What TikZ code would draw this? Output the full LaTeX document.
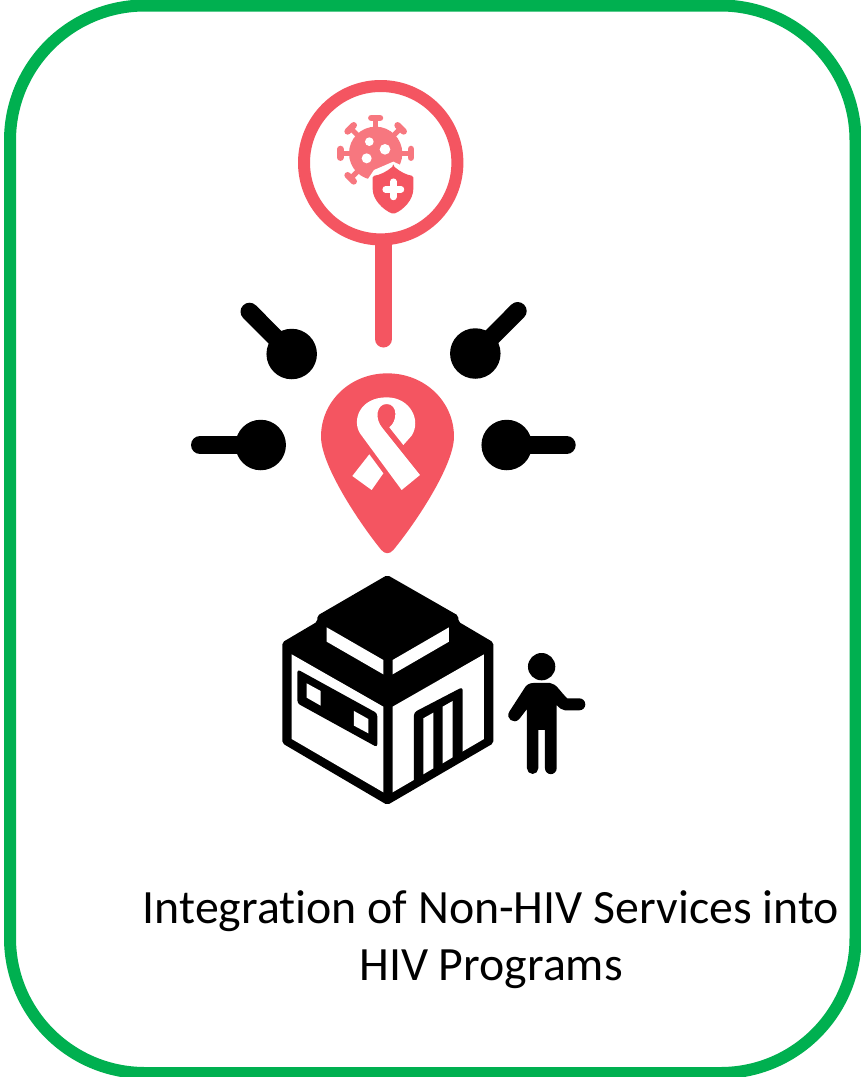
\documentclass[tikz,border=0pt]{standalone}
\usepackage{fontspec}
\usetikzlibrary{calc}
\setmainfont{Carlito}[Ligatures=NoCommon]
\definecolor{framegreen}{HTML}{00B050}
\definecolor{pinred}{HTML}{F45561}
\definecolor{virusred}{HTML}{F7777F}
\tikzset{
  frame/.style={draw=framegreen,line width=12pt,rounded corners=135pt,fill=white},
  stick/.style={line width=18pt,line cap=round,draw=black},
  blob/.style={circle,fill=black,draw=none,minimum size=50.5pt,inner sep=0pt},
  label/.style={font=\fontsize{47.8pt}{57pt}\selectfont,align=center,text=black,inner sep=0pt},
  spike/.style={draw=virusred,line width=5pt},
  spikecap/.style={draw=virusred,line width=6.5pt,line cap=round},
}
\begin{document}
\begin{tikzpicture}[x=1pt,y=-1pt]
\useasboundingbox (0,0) rectangle (861,1077);
\fill[white] (0,0) rectangle (861,1077);
\draw[frame] (10,5.5) rectangle (855.5,1073);

% lookout ring and stem
\draw[pinred,line width=17pt,line cap=round] (383.5,235) -- (383.5,339);
\draw[pinred,line width=12pt,fill=white] (380.7,162.7) circle (76.7);

% virus and shield (zoom coordinates)
\begin{scope}[shift={(290,70)},x=0.3333pt,y=-0.3333pt]
  \foreach \a in {-90,-45,-135,180,0,135} {
    \draw[spike] (257,250) -- ++({\a}:100);
    \draw[spikecap] ($(257,250)+({\a}:106)+({\a+90}:13)$) -- ($(257,250)+({\a}:106)+({\a-90}:13)$);
  }
  \fill[virusred] (257,250) circle (80);
  \fill[white] (238,215) circle (13) (285,238) circle (16) (230,265) circle (15);
  \fill[white] (232,330) -- (252,300) -- (310,275) -- (385,310) -- (385,370) -- (310,450) -- (235,370) -- cycle;
  \fill[pinred,rounded corners=1.5pt] (310,288) .. controls (330,305) and (350,315) .. (370,318) -- (370,352) .. controls (370,390) and (340,420) .. (310,432) .. controls (280,420) and (248,390) .. (248,352) -- (248,318) .. controls (270,315) and (290,305) .. (310,288) -- cycle;
  \draw[white,line width=6.5pt,line cap=round] (310,335) -- (310,381) (287,358) -- (333,358);
\end{scope}

% black lollipops
\node[blob] (tl) at (291.7,354) {};
\node[blob] (tr) at (475.3,353.5) {};
\node[blob] (ml) at (260.7,445) {};
\node[blob] (mr) at (506.7,445) {};
\coordinate (tlEnd) at (249.5,311.7);
\coordinate (trEnd) at (517.7,311);
\coordinate (mlEnd) at (200,445);
\coordinate (mrEnd) at (566.7,445);
\draw[stick] (tlEnd) -- (tl.center);
\draw[stick] (trEnd) -- (tr.center);
\draw[stick] (mlEnd) -- (ml.center);
\draw[stick] (mrEnd) -- (mr.center);

% pin with ribbon
\begin{scope}[shift={(310,365)},x=0.3333pt,y=-0.3333pt]
  \fill[pinred] (232,25) .. controls (345,25) and (432,110) .. (432,215)
    .. controls (432,300) and (320,470) .. (250,555)
    .. controls (238,568) and (226,568) .. (214,555)
    .. controls (145,470) and (33,300) .. (33,215)
    .. controls (33,110) and (120,25) .. (232,25) -- cycle;
  \fill[white] (275,375) -- (150,205)
    .. controls (125,165) and (150,97) .. (230,97)
    .. controls (300,97) and (335,165) .. (305,212)
    -- (280,240) -- (238,187)
    .. controls (262,170) and (265,117) .. (230,117)
    .. controls (200,117) and (192,160) .. (218,190)
    -- (330,330) -- cycle;
  \fill[white] (178,268) -- (127,333) -- (185,375) -- (220,325) -- cycle;
\end{scope}

% building and person
\begin{scope}[shift={(270,565)},x=0.3333pt,y=-0.3333pt]
  \fill[black,rounded corners=2pt] (352,30) -- (565,152) -- (565,170) -- (670,232) -- (670,535) -- (352,720) -- (37,535) -- (37,232) -- (142,170) -- (142,152) -- cycle;
  \fill[white] (65,268) -- (340,425) -- (340,682) -- (65,522) -- cycle;
  \fill[white] (368,425) -- (642,268) -- (642,522) -- (368,682) -- cycle;
  \fill[white] (170,187) -- (340,285) -- (340,328) -- (170,230) -- cycle;
  \fill[white] (537,187) -- (368,285) -- (368,328) -- (537,230) -- cycle;
  \fill[black,rounded corners=3pt] (82,313) -- (322,445) -- (322,547) -- (82,415) -- cycle;
  \fill[white] (110,355) -- (152,378) -- (152,422) -- (110,398) -- cycle;
  \fill[white] (252,438) -- (295,462) -- (295,505) -- (252,482) -- cycle;
  \fill[black,rounded corners=3pt] (432,442) -- (578,366) -- (578,580) -- (432,665) -- cycle;
  \fill[white] (460,460) -- (490,443) -- (490,610) -- (460,628) -- cycle;
  \fill[white] (518,425) -- (548,408) -- (548,577) -- (518,595) -- cycle;
  \fill[black] (815,305) circle (41);
  \fill[black] (790,354) -- (840,354) .. controls (860,356) and (870,380) .. (892,400) -- (928,400) arc (-90:90:18) -- (885,436) .. controls (875,436) and (868,428) .. (860,420) -- (860,610) arc (0:180:17.5) -- (825,495) -- (805,495) -- (805,610) arc (0:180:17) -- (771,432) -- (748,462) .. controls (732,480) and (705,460) .. (718,440) -- (762,372) .. controls (768,360) and (778,354) .. (790,354) -- cycle;
\end{scope}

\node[label] (caption) at (491,939.5) {Integration of Non-HIV Services into\\HIV Programs};
\end{tikzpicture}
\end{document}
